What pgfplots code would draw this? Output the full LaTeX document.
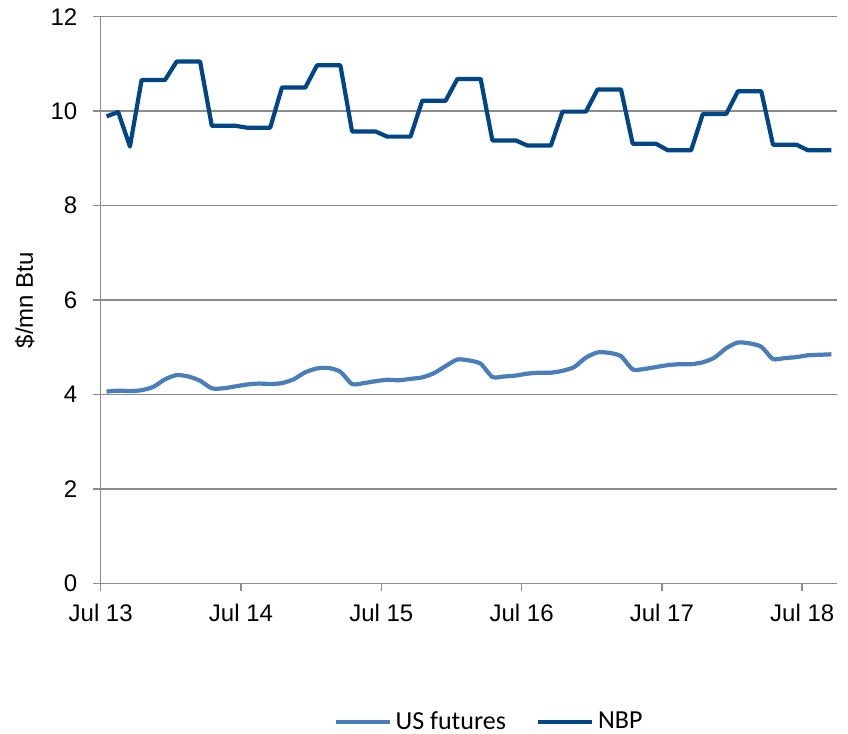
\documentclass[border=0pt]{standalone}
\usepackage{fontspec}
\setmainfont{Liberation Sans}
\newfontfamily\carlito{Carlito}
\usepackage{pgfplots}
\pgfplotsset{compat=1.18}
\usepackage{pgfplotstable}
\definecolor{nbp}{RGB}{0,69,134}
\definecolor{usf}{RGB}{74,126,187}
\definecolor{gridc}{RGB}{140,140,140}

\pgfplotstableread{
x y
0.5 4.06
1.5 4.08
2.5 4.07
3.5 4.09
4.5 4.16
5.5 4.32
6.5 4.41
7.5 4.38
8.5 4.29
9.5 4.13
10.5 4.13
11.5 4.17
12.5 4.21
13.5 4.23
14.5 4.22
15.5 4.24
16.5 4.32
17.5 4.47
18.5 4.55
19.5 4.56
20.5 4.48
21.5 4.22
22.5 4.24
23.5 4.28
24.5 4.31
25.5 4.30
26.5 4.33
27.5 4.36
28.5 4.45
29.5 4.60
30.5 4.74
31.5 4.72
32.5 4.65
33.5 4.37
34.5 4.38
35.5 4.40
36.5 4.44
37.5 4.46
38.5 4.46
39.5 4.50
40.5 4.58
41.5 4.78
42.5 4.89
43.5 4.88
44.5 4.81
45.5 4.53
46.5 4.54
47.5 4.58
48.5 4.62
49.5 4.64
50.5 4.64
51.5 4.68
52.5 4.78
53.5 4.98
54.5 5.10
55.5 5.08
56.5 5.01
57.5 4.75
58.5 4.77
59.5 4.79
60.5 4.83
61.5 4.84
62.5 4.85
}\usdata

\pgfplotstableread{
x y
0.5 9.89
1.5 9.98
2.5 9.25
3.5 10.66
4.5 10.66
5.5 10.66
6.5 11.05
7.5 11.05
8.5 11.05
9.5 9.69
10.5 9.69
11.5 9.69
12.5 9.65
13.5 9.65
14.5 9.65
15.5 10.50
16.5 10.50
17.5 10.50
18.5 10.97
19.5 10.97
20.5 10.97
21.5 9.57
22.5 9.57
23.5 9.57
24.5 9.46
25.5 9.46
26.5 9.46
27.5 10.22
28.5 10.22
29.5 10.22
30.5 10.68
31.5 10.68
32.5 10.68
33.5 9.38
34.5 9.38
35.5 9.38
36.5 9.27
37.5 9.27
38.5 9.27
39.5 9.99
40.5 9.99
41.5 9.99
42.5 10.46
43.5 10.46
44.5 10.46
45.5 9.31
46.5 9.31
47.5 9.31
48.5 9.17
49.5 9.17
50.5 9.17
51.5 9.94
52.5 9.94
53.5 9.94
54.5 10.42
55.5 10.42
56.5 10.42
57.5 9.29
58.5 9.29
59.5 9.29
60.5 9.17
61.5 9.17
62.5 9.17
}\nbpdata

\begin{document}
\begin{tikzpicture}
\useasboundingbox (0,0) rectangle (424pt,367pt);
\begin{axis}[
  at={(50.35pt,75.35pt)}, anchor=south west,
  scale only axis, width=368.3pt, height=283.3pt,
  xmin=0, xmax=63, ymin=0, ymax=12,
  xtick={0,12,24,36,48,60},
  xticklabels={Jul 13,Jul 14,Jul 15,Jul 16,Jul 17,Jul 18},
  ytick={0,2,4,6,8,10,12},
  axis x line*=bottom, axis y line*=left,
  axis line style={draw=gridc, line width=0.75pt, -},
  tick style={draw=gridc, line width=0.75pt},
  tick align=outside, major tick length=4pt,
  ymajorgrids, grid style={draw=gridc, line width=0.75pt},
  /pgf/number format/assume math mode=true,
  ticklabel style={font=\fontsize{12}{14}\selectfont},
  yticklabel style={anchor=east, inner sep=0pt, xshift=-7.5pt},
  xticklabel style={anchor=north, inner sep=0pt, yshift=-6pt},
  ylabel={\$/mn Btu},
  ylabel style={font=\fontsize{12}{14}\selectfont, at={(axis description cs:-0.103,0.5)}, anchor=center},
  legend style={draw=none, fill=none, at={(axis description cs:0.5285,-0.2448)}, anchor=center,
    font=\carlito\fontsize{13}{15}\selectfont, legend columns=2,
    /tikz/every even column/.append style={column sep=13pt},
    legend cell align=left, inner sep=0pt},
  legend image code/.code={\draw[#1] (0pt,0pt) -- (27pt,0pt);},
  clip=false,
]
\addplot[usf, line width=2.1pt, smooth, tension=0.4] table[x=x,y=y]{\usdata};
\addlegendentry{US futures}
\addplot[nbp, line width=2.1pt, line join=round] table[x=x,y=y]{\nbpdata};
\addlegendentry{NBP}
\end{axis}
\end{tikzpicture}
\end{document}
